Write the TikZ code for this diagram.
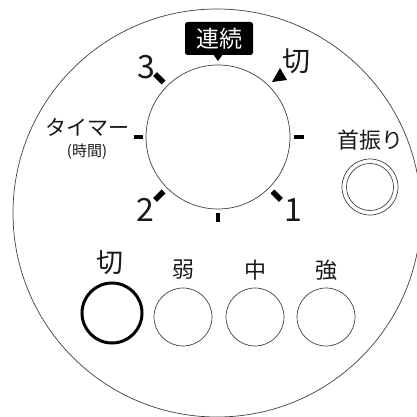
\documentclass[tikz,border=0pt]{standalone}
\usepackage{fontspec}
\usetikzlibrary{calc}
\setmainfont{Noto Sans CJK JP}
\begin{document}
\begin{tikzpicture}[x=1pt,y=1pt,
  thin gray/.style={draw=black!75, line width=0.7pt},
  tick/.style={line width=5.5pt, black},
  smalltick/.style={line width=3.5pt, black},
  lbl/.style={inner sep=0pt, text=black!90},
  btn/.style={circle, draw=black!75, line width=0.7pt, minimum size=58pt, inner sep=0pt}]
\useasboundingbox (0,0) rectangle (417,416);
\clip (0,0) rectangle (417,416);
% outer panel
\node[circle, thin gray, minimum size=408pt, inner sep=0pt] (panel) at (217,203) {};
% dial
\node[circle, thin gray, minimum size=144pt, inner sep=0pt] (dial) at (218,279) {};
\coordinate (c) at (218,279);
% ticks
\draw[tick] ($(c)+(135:77)$) -- ($(c)+(135:89)$);
\draw[tick] ($(c)+(225:77)$) -- ($(c)+(225:89)$);
\draw[tick] ($(c)+(315:77)$) -- ($(c)+(315:89)$);
\draw[smalltick] ($(c)+(180:75)$) -- ($(c)+(180:84)$);
\draw[smalltick] ($(c)+(0:76)$) -- ($(c)+(0:86)$);
\draw[smalltick] ($(c)+(270:76)$) -- ($(c)+(270:85)$);
% arrow triangle
\fill[black] (272,334) -- (280,348) -- (287,336) -- cycle;
% 連続 label
\node[fill=black, rounded corners=2.5pt, minimum width=68pt, minimum height=33pt, inner sep=0pt,
  text=white, font=\fontsize{23}{23}\selectfont] (cont) at (219,377.5) {連続};
\fill[black] (213,362) -- (223,362) -- (218,355) -- cycle;
% numbers
\node[lbl, font=\fontsize{32}{32}\selectfont] (n3) at (146,349) {3};
\node[lbl, font=\fontsize{32}{32}\selectfont] (n2) at (145,206) {2};
\node[lbl, font=\fontsize{32}{32}\selectfont] (n1) at (293,206) {1};
\node[lbl, font=\fontsize{28}{28}\selectfont] (off1) at (296,355) {切};
% timer
\node[lbl, font=\fontsize{21}{21}\selectfont] (timer) at (87,289) {タイマー};
\node[lbl, font=\fontsize{15}{15}\selectfont] (hours) at (87,264) {(時間)};
% swing
\node[lbl, font=\fontsize{22}{22}\selectfont] (swing) at (370,276) {首振り};
\node[btn, minimum size=56pt] (swb) at (370,229) {};
\node[circle, draw=black!75, line width=0.7pt, minimum size=47pt, inner sep=0pt] at (swb) {};
% bottom buttons
\node[lbl, font=\fontsize{27}{27}\selectfont] (loff) at (110,153) {切};
\node[lbl, font=\fontsize{22}{22}\selectfont] (lweak) at (183,146) {弱};
\node[lbl, font=\fontsize{22}{22}\selectfont] (lmid) at (255,146) {中};
\node[lbl, font=\fontsize{22}{22}\selectfont] (lstr) at (326,146) {強};
\node[circle, draw=black, line width=3pt, minimum size=60pt, inner sep=0pt] (boff) at (112,103) {};
\node[btn] (bweak) at (183,99) {};
\node[btn] (bmid) at (255,99) {};
\node[btn] (bstr) at (326,99) {};
\end{tikzpicture}
\end{document}
